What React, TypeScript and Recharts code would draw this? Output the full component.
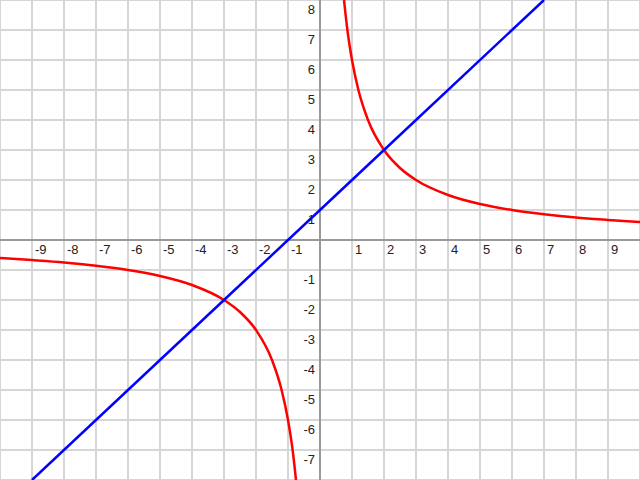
import React from "react";
import { LineChart, Line, XAxis, YAxis, ReferenceLine, ReferenceDot } from "recharts";

// Hyperbola branches (x, y)
const rightBranchX = [0.75, 0.85, 1, 1.2, 1.5, 2, 2.5, 3, 4, 5, 6, 7, 8, 9, 10];
const rightBranchY = [8, 7.05, 6, 5, 4, 3, 2.4, 2, 1.5, 1.2, 1, 0.86, 0.75, 0.67, 0.6];
const leftBranchX = [-10, -9, -8, -7, -6, -5, -4, -3, -2.5, -2, -1.5, -1.2, -1, -0.85, -0.75];
const leftBranchY = [-0.6, -0.67, -0.75, -0.86, -1, -1.2, -1.5, -2, -2.4, -3, -4, -5, -6, -7.05, -8];
// Straight line
const lineX = [-9, -3, 0, 2, 7];
const lineY = [-8, -2, 1, 3, 8];

// Grid and tick labels
const gridX = [-10, -9, -8, -7, -6, -5, -4, -3, -2, -1, 1, 2, 3, 4, 5, 6, 7, 8, 9, 10];
const gridY = [-8, -7, -6, -5, -4, -3, -2, -1, 1, 2, 3, 4, 5, 6, 7, 8];
const xTickLabels = [-9, -8, -7, -6, -5, -4, -3, -2, -1, 1, 2, 3, 4, 5, 6, 7, 8, 9];
const yTickLabels = [-7, -6, -5, -4, -3, -2, -1, 1, 2, 3, 4, 5, 6, 7, 8];

const rightData = rightBranchX.map((x, i) => ({ x, y: rightBranchY[i] }));
const leftData = leftBranchX.map((x, i) => ({ x, y: leftBranchY[i] }));
const lineData = lineX.map((x, i) => ({ x, y: lineY[i] }));

const FONT = "'Liberation Sans', Arial, sans-serif";

const xLabel = (v: number) => (props: any) => {
  const vb = props.viewBox || {};
  return (
    <text x={vb.x + 3} y={vb.y + 14} fontSize={13} fontFamily={FONT} fill="#222" textAnchor="start">
      {v}
    </text>
  );
};

const yLabel = (v: number) => (props: any) => {
  const vb = props.viewBox || {};
  return (
    <text x={vb.x - 5} y={vb.y + 14} fontSize={13} fontFamily={FONT} fill="#222" textAnchor="end">
      {v}
    </text>
  );
};

export default function App() {
  return (
    <div style={{ position: "absolute", left: 0, top: 0, width: 640, height: 480, background: "#fff" }}>
      <LineChart width={640} height={480} margin={{ top: 0, right: 0, bottom: 0, left: 0 }}>
        <XAxis type="number" dataKey="x" domain={[-10, 10]} hide />
        <YAxis type="number" dataKey="y" domain={[-8, 8]} hide />
        {gridX.map((v) => (
          <ReferenceLine key={"gx" + v} x={v} stroke="#d6d6d6" strokeWidth={2} />
        ))}
        {gridY.map((v) => (
          <ReferenceLine key={"gy" + v} y={v} stroke="#d6d6d6" strokeWidth={2} />
        ))}
        <ReferenceLine x={0} stroke="#999" strokeWidth={2} />
        <ReferenceLine y={0} stroke="#999" strokeWidth={2} />
        {xTickLabels.map((v) => (
          <ReferenceDot key={"lx" + v} x={v} y={0} r={0} fill="none" stroke="none" label={xLabel(v)} />
        ))}
        {yTickLabels.map((v) => (
          <ReferenceDot key={"ly" + v} x={0} y={v} r={0} fill="none" stroke="none" label={yLabel(v)} />
        ))}
        <Line data={leftData} dataKey="y" type="monotone" stroke="#ff0000" strokeWidth={2.5} dot={false} activeDot={false} isAnimationActive={false} />
        <Line data={rightData} dataKey="y" type="monotone" stroke="#ff0000" strokeWidth={2.5} dot={false} activeDot={false} isAnimationActive={false} />
        <Line data={lineData} dataKey="y" type="linear" stroke="#0000ff" strokeWidth={2.5} dot={false} activeDot={false} isAnimationActive={false} />
      </LineChart>
    </div>
  );
}
